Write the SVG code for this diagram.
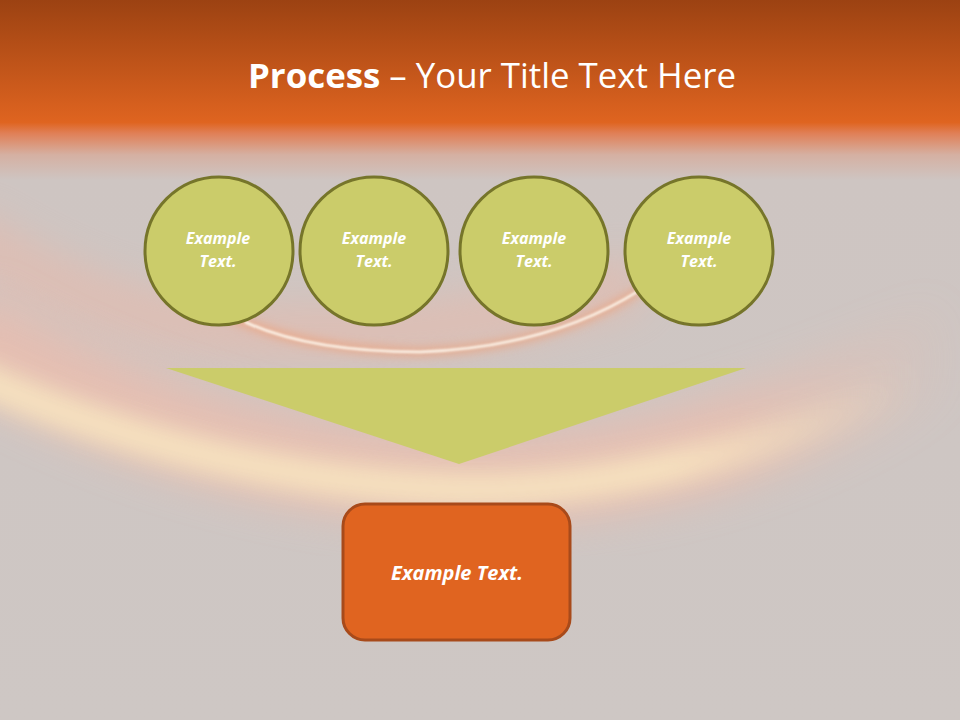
<svg xmlns="http://www.w3.org/2000/svg" width="960" height="720" viewBox="0 0 960 720">
<defs>
<linearGradient id="bg" x1="0" y1="0" x2="0" y2="1">
<stop offset="0" stop-color="#9c4212"/>
<stop offset="0.17" stop-color="#df6420"/>
<stop offset="0.185" stop-color="#e07f56"/>
<stop offset="0.215" stop-color="#d5b0a2"/>
<stop offset="0.25" stop-color="#cec5c2"/>
<stop offset="1" stop-color="#cec7c4"/>
</linearGradient>
<linearGradient id="fadeR" x1="0" y1="0" x2="960" y2="0" gradientUnits="userSpaceOnUse">
<stop offset="0" stop-color="#f8e4c0"/>
<stop offset="0.7" stop-color="#f8e4c0"/>
<stop offset="0.95" stop-color="#f8e4c0" stop-opacity="0"/>
</linearGradient>
<linearGradient id="fadeP" x1="0" y1="0" x2="960" y2="0" gradientUnits="userSpaceOnUse">
<stop offset="0" stop-color="#f7b8a4"/>
<stop offset="0.75" stop-color="#f7b8a4"/>
<stop offset="1" stop-color="#f7b8a4" stop-opacity="0"/>
</linearGradient>
<filter id="blur20" x="-20%" y="-50%" width="140%" height="200%"><feGaussianBlur stdDeviation="20"/></filter>
<filter id="blur12" x="-20%" y="-50%" width="140%" height="200%"><feGaussianBlur stdDeviation="12"/></filter>
<filter id="blur5" x="-20%" y="-50%" width="140%" height="200%"><feGaussianBlur stdDeviation="5"/></filter>
<filter id="blur1" x="-20%" y="-50%" width="140%" height="200%"><feGaussianBlur stdDeviation="1.2"/></filter>
<style>
.circ{fill:#cbcc6a;stroke:#76752a;stroke-width:3}
.ct{font-family:"Open Sans","Noto Sans",sans-serif;font-weight:bold;font-style:italic;font-size:16px;fill:#ffffff;text-anchor:middle}
</style>
</defs>
<rect width="960" height="720" fill="url(#bg)"/>
<g id="swoosh" fill="none">
<path d="M-40,230 Q100,320 240,330 Q440,345 640,280" stroke="#f3b4a0" stroke-width="50" opacity="0.45" filter="url(#blur20)"/>
<path d="M-40,330 Q200,470 460,480 Q700,485 960,340" stroke="url(#fadeP)" stroke-width="90" opacity="0.55" filter="url(#blur20)"/>
<path d="M-40,370 Q200,480 460,490 Q700,492 960,360" stroke="url(#fadeR)" stroke-width="34" opacity="0.95" filter="url(#blur12)"/>
<path d="M230,316 Q300,350 420,352 Q550,348 640,290" stroke="#f59a6a" stroke-width="8" opacity="0.6" filter="url(#blur5)"/>
<path d="M245,322 Q310,352 420,352 Q550,347 640,290" stroke="#fffaf0" stroke-width="2.5" opacity="0.95" filter="url(#blur1)"/>
</g>
<text x="492" y="88" font-family="'Open Sans','Noto Sans',sans-serif" font-size="34" fill="#ffffff" text-anchor="middle" textLength="488" lengthAdjust="spacingAndGlyphs"><tspan font-weight="bold">Process</tspan> – Your Title Text Here</text>
<g id="connectors">
<polygon points="166,368 746,368 459,464" fill="#cbcc6a"/>
</g>
<g id="n1"><circle class="circ" cx="219" cy="251" r="74"/><text class="ct" x="218" y="244">Example</text><text class="ct" x="218" y="267">Text.</text></g>
<g id="n2"><circle class="circ" cx="374" cy="251" r="74"/><text class="ct" x="374" y="244">Example</text><text class="ct" x="374" y="267">Text.</text></g>
<g id="n3"><circle class="circ" cx="534" cy="251" r="74"/><text class="ct" x="534" y="244">Example</text><text class="ct" x="534" y="267">Text.</text></g>
<g id="n4"><circle class="circ" cx="699" cy="251" r="74"/><text class="ct" x="699" y="244">Example</text><text class="ct" x="699" y="267">Text.</text></g>
<g id="n5"><rect x="343" y="504" width="227" height="136" rx="22" fill="#e06420" stroke="#a84a1a" stroke-width="3"/><text x="457" y="580" font-family="'Open Sans','Noto Sans',sans-serif" font-weight="bold" font-style="italic" font-size="20" fill="#ffffff" text-anchor="middle">Example Text.</text></g>
</svg>
